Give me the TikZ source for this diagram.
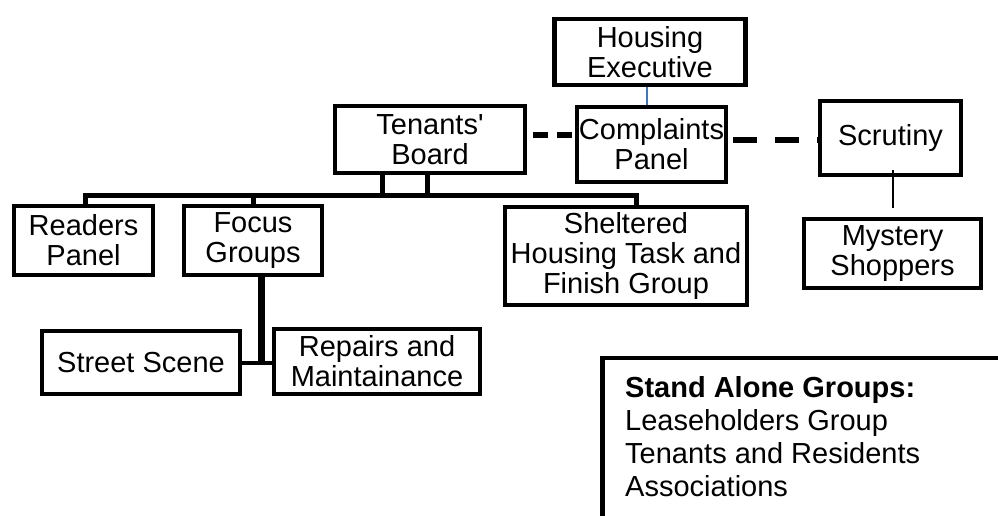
\documentclass[tikz,border=0pt]{standalone}
\usepackage{fontspec}
\setmainfont{Liberation Sans}[Ligatures=TeXOff]
\definecolor{linkblue}{RGB}{68,114,196}
\begin{document}
\begin{tikzpicture}[x=1pt,y=-1pt,
  box/.style={draw, line width=4.5pt, align=center, inner sep=0pt, fill=white,
    font=\fontsize{29}{30}\selectfont},
  conn/.style={line width=5pt, line join=miter},
  thinconn/.style={line width=1.5pt},
  dashA/.style={line width=6pt, dash pattern=on 15pt off 9pt, dash phase=18pt},
  dashB/.style={line width=5pt, dash pattern=on 24pt off 18pt, dash phase=37pt},
  ]
\useasboundingbox (0,0) rectangle (998,516);

\node[box, minimum width=191, minimum height=66] (he) at (650,52) {Housing\\Executive};
\node[box, minimum width=149, minimum height=75] (cp) at (651.5,144.5) {Complaints\\Panel};
\node[box, minimum width=190, minimum height=67] (tb) at (430,139.5) {Tenants'\\Board};
\node[box, minimum width=139, minimum height=69] (rp) at (83.5,240.5) {Readers\\Panel};
\node[box, minimum width=138, minimum height=69] (fg) at (253,240.5) {Focus\\Groups};
\node[box, minimum width=242, minimum height=98] (sh) at (626,256) {Sheltered\\Housing Task and\\Finish Group};
\node[box, minimum width=198, minimum height=63] (ss) at (141,362.5) {Street Scene};
\node[box, minimum width=206, minimum height=65] (rm) at (377,361.5) {Repairs and\\Maintainance};
\node[box, minimum width=141, minimum height=74] (scr) at (890.5,138) {Scrutiny};
\node[box, minimum width=177, minimum height=69] (ms) at (892.5,253.5) {Mystery\\Shoppers};

\draw[conn] (85,0 |- rp.north) -- (85,195) -- (636,195) -- (636,0 |- sh.north);
\draw[conn] (253,195) -- (fg.north);
\draw[conn] (382.5,0 |- tb.south) -- (382.5,195);
\draw[conn] (427.5,0 |- tb.south) -- (427.5,195);

\draw[linkblue, thinconn] (647,0 |- he.south) -- (647,0 |- cp.north);
\draw[dashA] (tb.east |- 0,135) -- (cp.west |- 0,135);
\draw[dashB] (cp.east |- 0,140) -- (scr.west |- 0,140);

\draw[line width=6.5pt] (261.7,0 |- fg.south) -- (261.7,365);
\draw[line width=4pt] (ss.east |- 0,363) -- (rm.west |- 0,363);

\coordinate (msx) at (893,208);
\draw[thinconn] (893,170) -- (msx);

% stand alone box
\draw[line width=4.5pt, line join=miter] (602.5,530) -- (602.5,358) -- (1010,358);
\node[anchor=north west, inner sep=0pt, align=left, font=\fontsize{29}{33}\selectfont] (sa) at (625,376)
  {\textbf{Stand Alone Groups:}\\Leaseholders Group\\Tenants and Residents\\Associations};
\end{tikzpicture}
\end{document}
